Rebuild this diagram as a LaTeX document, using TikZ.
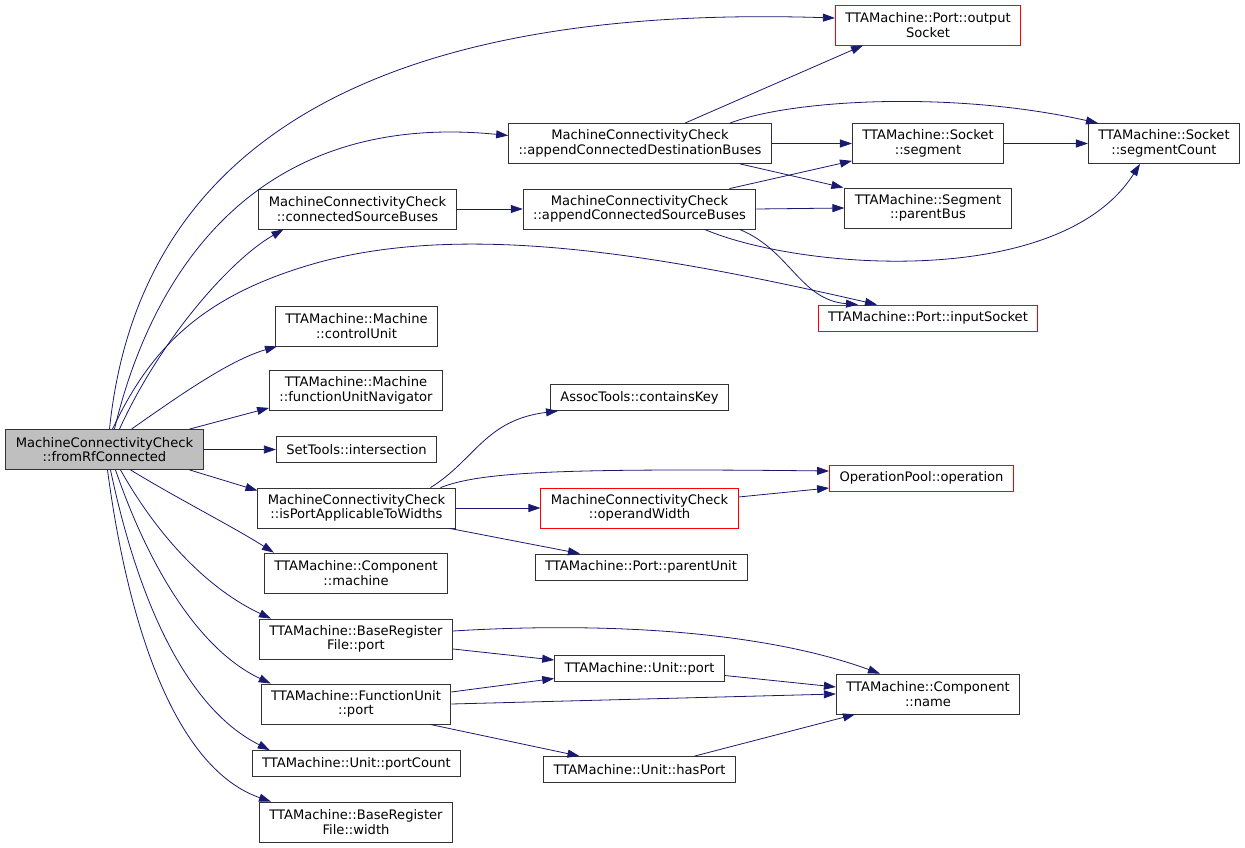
\documentclass[tikz,border=0pt]{standalone}
\usepackage{fontspec}
\setmainfont{DejaVu Sans}
\usetikzlibrary{arrows.meta}
\definecolor{edgeblue}{HTML}{191970}
\definecolor{rootgray}{HTML}{BFBFBF}
\begin{document}
\begin{tikzpicture}[
  x=1pt, y=-1pt,
  fn/.style={rectangle, draw=black!80, line width=0.8pt, fill=white, align=center,
             inner xsep=10pt, inner ysep=0pt, minimum height=26pt,
             font=\fontsize{13.1}{14.3}\selectfont},
  two/.style={minimum height=40pt},
  ext/.style={draw=red},
  root/.style={fill=rootgray},
  call/.style={draw=edgeblue, line width=0.8pt, -{Triangle[length=12pt, width=8pt]}}
]
  \useasboundingbox (0,0) rectangle (1245,848);

  % Caller
  \node[fn, two, root] (root) at (104.5,449.5) {MachineConnectivityCheck\\::fromRfConnected};

  % First level
  \node[fn, two] (connSrc) at (357.5,209) {MachineConnectivityCheck\\::connectedSourceBuses};
  \node[fn, two] (ctrlU) at (356.5,326) {TTAMachine::Machine\\::controlUnit};
  \node[fn, two] (fuNav) at (356,390.5) {TTAMachine::Machine\\::functionUnitNavigator};
  \node[fn] (inter) at (356.5,449.5) {SetTools::intersection};
  \node[fn, two] (isPort) at (356.5,508) {MachineConnectivityCheck\\::isPortApplicableToWidths};
  \node[fn, two] (machine) at (356,573) {TTAMachine::Component\\::machine};
  \node[fn, two] (brfPort) at (356,639) {TTAMachine::BaseRegister\\File::port};
  \node[fn, two] (fuPort) at (356,704) {TTAMachine::FunctionUnit\\::port};
  \node[fn] (portCnt) at (356.5,763.5) {TTAMachine::Unit::portCount};
  \node[fn, two] (brfW) at (356,822) {TTAMachine::BaseRegister\\File::width};

  % Second level
  \node[fn, two] (appDst) at (640,143.5) {MachineConnectivityCheck\\::appendConnectedDestinationBuses};
  \node[fn, two] (appSrc) at (639.5,209) {MachineConnectivityCheck\\::appendConnectedSourceBuses};
  \node[fn] (contKey) at (639.5,397.5) {AssocTools::containsKey};
  \node[fn, two, ext] (opW) at (639.5,508) {MachineConnectivityCheck\\::operandWidth};
  \node[fn] (parUnit) at (641,567) {TTAMachine::Port::parentUnit};
  \node[fn] (uPort) at (639.5,668.5) {TTAMachine::Unit::port};
  \node[fn] (hasPort) at (639.5,769.5) {TTAMachine::Unit::hasPort};

  % Third level
  \node[fn, two, ext] (outS) at (928,25) {TTAMachine::Port::output\\Socket};
  \node[fn, two] (seg) at (928,143.5) {TTAMachine::Socket\\::segment};
  \node[fn, two] (parBus) at (928,208) {TTAMachine::Segment\\::parentBus};
  \node[fn, ext] (inSock) at (928,318) {TTAMachine::Port::inputSocket};
  \node[fn, ext] (oper) at (921.5,478) {OperationPool::operation};
  \node[fn, two] (compName) at (928,694) {TTAMachine::Component\\::name};
  \node[fn, two] (segCnt) at (1164,143.5) {TTAMachine::Socket\\::segmentCount};

  % Calls from the caller
  \draw[call] ([xshift=5pt]root.north) .. controls (130,230) and (260,0) .. ([yshift=7pt]outS.west);
  \draw[call] ([xshift=10pt]root.north) .. controls (150,280) and (250,110) .. ([yshift=8pt]appDst.west);
  \draw[call] ([xshift=15pt]root.north) .. controls (160,340) and (230,260) .. ([xshift=-74pt]connSrc.south);
  \draw[call] ([xshift=8pt]root.north) .. controls (150,350) and (200,295) .. (320,262)
    .. controls (470,222) and (660,255) .. ([xshift=-51pt]inSock.north);
  \draw[call] ([xshift=27pt]root.north) .. controls (180,395) and (230,360) .. ([xshift=2pt]ctrlU.south west);
  \draw[call] ([xshift=-14pt]root.north east) -- ([yshift=3pt]fuNav.south west);
  \draw[call] (root.east) -- (inter.west);
  \draw[call] ([xshift=-14pt]root.south east) -- ([yshift=-3pt]isPort.north west);
  \draw[call] ([xshift=26pt]root.south) .. controls (180,500) and (230,525) .. ([xshift=10pt]machine.north west);
  \draw[call] ([xshift=16pt]root.south) .. controls (160,540) and (210,590) .. ([xshift=12pt]brfPort.north west);
  \draw[call] ([xshift=11pt]root.south) .. controls (150,570) and (200,650) .. ([xshift=10pt]fuPort.north west);
  \draw[call] ([xshift=6pt]root.south) .. controls (140,610) and (190,710) .. ([xshift=18pt]portCnt.north west);
  \draw[call] ([xshift=3pt]root.south) .. controls (130,640) and (180,770) .. ([xshift=12pt]brfW.north west);

  % Bus lookups
  \draw[call] ([xshift=45pt]appDst.north) -- ([xshift=-65pt]outS.south);
  \draw[call] ([xshift=90pt]appDst.north) .. controls (790,100) and (950,90) .. ([xshift=-66pt]segCnt.north);
  \draw[call] (appDst.east) -- (seg.west);
  \draw[call] ([xshift=100pt]appDst.south) -- ([xshift=-1pt]parBus.north west);
  \draw[call] (connSrc.east) -- (appSrc.west);
  \draw[call] ([xshift=90pt]appSrc.north) -- ([yshift=3pt]seg.south west);
  \draw[call] (appSrc.east) -- (parBus.west);
  \draw[call] ([xshift=65pt]appSrc.south) .. controls (800,270) and (1060,290) .. ([xshift=-24pt]segCnt.south);
  \draw[call] ([xshift=100pt]appSrc.south) .. controls (790,250) and (800,300) .. ([xshift=-70pt]inSock.north);
  \draw[call] (seg.east) -- (segCnt.west);

  % Width checks
  \draw[call] ([xshift=74pt]isPort.north) .. controls (475,460) and (485,420) .. ([xshift=8pt]contKey.south west);
  \draw[call] ([xshift=84pt]isPort.north) .. controls (480,472) and (560,468) .. ([yshift=7pt]oper.west);
  \draw[call] (isPort.east) -- (opW.west);
  \draw[call] ([xshift=-6pt]isPort.south east) -- ([xshift=-61pt]parUnit.north);
  \draw[call] ([yshift=11pt]opW.east) -- ([yshift=-10pt]oper.west);

  % Port lookups
  \draw[call] ([yshift=8pt]brfPort.east) .. controls (600,622) and (760,630) .. ([xshift=-48pt]compName.north);
  \draw[call] ([yshift=-10pt]brfPort.east) -- ([yshift=8.5pt]uPort.west);
  \draw[call] ([yshift=12pt]fuPort.east) -- ([yshift=-10pt]uPort.west);
  \draw[call] (fuPort.east) -- (compName.west);
  \draw[call] ([xshift=74pt]fuPort.south) -- ([xshift=-60pt]hasPort.north);
  \draw[call] ([yshift=-7pt]uPort.east) -- ([yshift=7pt]compName.west);
  \draw[call] ([xshift=55pt]hasPort.north) -- ([xshift=-73pt]compName.south);
\end{tikzpicture}
\end{document}
